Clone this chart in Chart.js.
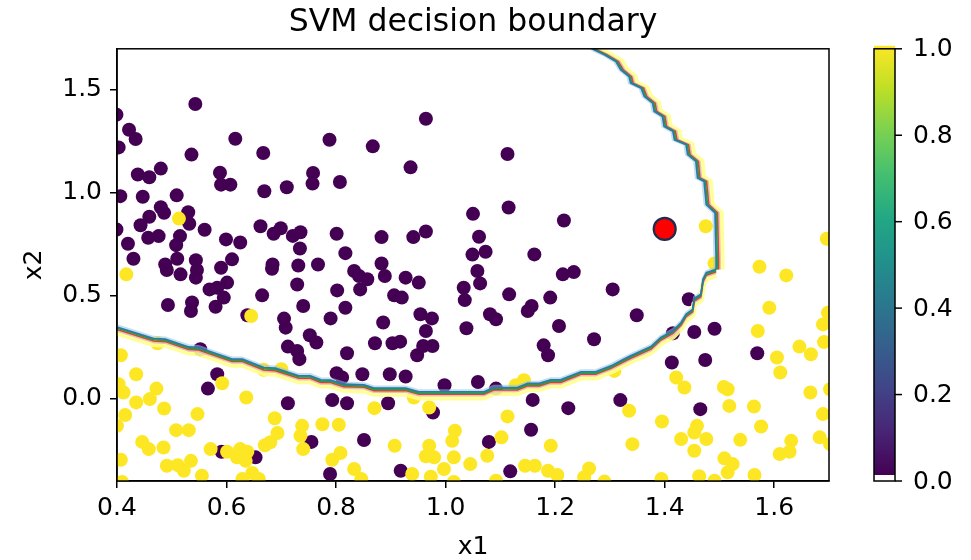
<!DOCTYPE html>
<html>
<head>
<meta charset="utf-8">
<script src="https://cdn.jsdelivr.net/npm/chart.js@4.4.1/dist/chart.umd.min.js"></script>
<style>
  html, body { margin: 0; padding: 0; background: #fff; }
  #wrap { width: 971px; height: 560px; }
</style>
</head>
<body>
<div id="wrap"><canvas id="svm" width="971" height="560"></canvas></div>
<script>
// class 0 samples (purple)
const class0X = [0.543, 0.399, 0.422, 0.434, 0.403, 0.616, 0.536, 0.667, 0.788, 0.480, 0.438, 0.459, 0.588, 0.590, 0.607,
  0.758, 0.757, 0.807, 0.710, 0.669, 0.406, 0.447, 0.509, 0.480, 0.486, 0.530, 0.459, 0.443, 0.532, 0.560, 0.399,
  0.662, 0.699, 0.686, 0.721, 0.735, 0.801, 0.457, 0.476, 0.515, 0.508, 0.420, 0.599, 0.625, 0.734, 0.817, 0.430,
  0.510, 0.544, 0.610, 0.488, 0.491, 0.516, 0.546, 0.544, 0.590, 0.569, 0.583, 0.601, 0.595, 0.580, 0.537, 0.535,
  0.493, 0.665, 0.638, 0.684, 0.683, 0.731, 0.767, 0.729, 0.740, 0.705, 0.708, 0.712, 0.729, 0.733, 0.752, 0.764,
  0.790, 0.802, 0.817, 0.833, 0.842, 0.857, 0.844, 0.883, 0.889, 0.927, 0.951, 0.906, 0.920, 0.886, 0.954, 0.975,
  0.964, 0.871, 0.903, 0.917, 0.948, 0.959, 0.976, 1.033, 1.035, 1.038, 1.049, 1.058, 1.063, 0.552, 0.583, 0.566,
  0.712, 0.793, 0.820, 0.801, 0.811, 0.848, 0.898, 0.927, 0.998, 1.059, 0.895, 0.977, 0.755, 0.851, 0.591, 0.653,
  0.789, 0.918, 1.116, 1.081, 1.092, 1.150, 1.157, 1.191, 1.207, 1.214, 1.234, 1.179, 1.187, 1.271, 1.092, 1.159,
  1.224, 1.156, 1.079, 1.118, 1.113, 0.964, 0.867, 0.936, 1.050, 1.115, 1.216, 0.883, 0.941, 0.964, 1.061, 1.073,
  1.162, 1.305, 1.349, 1.444, 1.415, 1.454, 1.491, 1.413, 1.474, 1.569, 1.319, 1.465, 0.820];
const class0Y = [1.432, 1.380, 1.307, 1.262, 1.221, 1.263, 1.186, 1.194, 1.258, 1.118, 1.089, 1.076, 1.098, 1.040, 1.040,
  1.097, 1.045, 1.053, 1.027, 1.008, 0.984, 0.981, 0.988, 0.930, 0.903, 0.906, 0.884, 0.843, 0.850, 0.821, 0.822,
  0.838, 0.828, 0.801, 0.791, 0.809, 0.801, 0.782, 0.790, 0.790, 0.746, 0.753, 0.774, 0.759, 0.730, 0.707, 0.680,
  0.680, 0.673, 0.677, 0.652, 0.625, 0.604, 0.625, 0.588, 0.636, 0.531, 0.539, 0.564, 0.491, 0.447, 0.467, 0.426,
  0.455, 0.502, 0.405, 0.652, 0.631, 0.647, 0.652, 0.555, 0.450, 0.389, 0.345, 0.253, 0.232, 0.192, 0.308, 0.273,
  0.390, 0.526, 0.442, 0.620, 0.596, 0.580, 0.531, 0.657, 0.596, 0.588, 0.564, 0.502, 0.491, 0.370, 0.410, 0.390,
  0.329, 0.269, 0.269, 0.277, 0.211, 0.256, 0.256, 0.539, 0.479, 0.342, 0.700, 0.620, 0.560, 0.240, 0.119, 0.049,
  -0.022, -0.007, -0.022, 0.124, 0.103, 0.119, 0.119, 0.108, 0.065, 0.081, -0.022, -0.067, -0.210, -0.201, -0.258, -0.285,
  -0.366, -0.350, 0.507, 0.410, 0.386, 0.426, 0.450, 0.491, 0.353, 0.604, 0.615, 0.259, 0.211, 0.289, 0.049, -0.006,
  -0.046, -0.151, -0.210, -0.353, 1.189, 1.360, 1.226, 1.124, 0.898, 0.929, 0.866, 0.785, 0.785, 0.812, 0.787, 0.714,
  0.701, 0.531, 0.405, 0.483, 0.318, 0.324, 0.340, 0.176, 0.188, 0.221, -0.007, -0.051, 0.221];

// class 1 samples (yellow)
const class1X = [0.513, 0.417, 0.474, 0.407, 0.435, 0.403, 0.412, 0.472, 0.460, 0.435, 0.486, 0.415, 0.400, 0.547, 0.508,
  0.531, 0.446, 0.458, 0.485, 0.407, 0.491, 0.511, 0.522, 0.535, 0.555, 0.409, 0.571, 0.601, 0.625, 0.619, 0.638,
  0.635, 0.670, 0.680, 0.688, 0.693, 0.636, 0.592, 0.668, 0.700, 0.738, 0.735, 0.740, 0.775, 0.805, 0.793, 0.808,
  0.833, 0.846, 0.870, 0.907, 0.942, 0.970, 0.970, 0.964, 0.979, 1.017, 1.012, 1.015, 0.997, 1.045, 0.939, 0.973,
  0.629, 0.659, 0.647, 1.015, 1.143, 1.128, 1.113, 1.102, 1.076, 1.192, 1.145, 1.163, 1.187, 1.204, 1.262, 1.253,
  1.092, 1.573, 1.622, 1.591, 1.698, 1.689, 1.691, 1.570, 1.646, 1.667, 1.605, 1.611, 1.308, 1.421, 1.436, 1.508,
  1.515, 1.518, 1.563, 1.576, 1.666, 1.689, 1.702, 1.335, 1.395, 1.341, 1.430, 1.454, 1.459, 1.476, 1.454, 1.538,
  1.509, 1.524, 1.515, 1.631, 1.610, 1.628, 1.683, 1.564, 1.463, 1.491, 1.394, 1.290, 1.702, 1.475, 1.696, 1.491,
  0.645];
const class1Y = [0.875, 0.604, 0.269, 0.211, 0.119, 0.070, 0.030, 0.049, -0.002, -0.018, -0.048, -0.079, -0.132, -0.075, -0.153,
  -0.153, -0.210, -0.245, -0.237, -0.297, -0.326, -0.323, -0.350, -0.302, -0.374, -0.405, -0.245, -0.258, -0.245, -0.285, -0.258,
  -0.302, -0.226, -0.212, -0.095, -0.167, 0.006, 0.075, 0.140, 0.143, -0.132, -0.180, -0.245, -0.124, -0.127, -0.297, -0.264,
  -0.342, -0.390, -0.046, -0.229, 0.006, -0.043, -0.229, -0.280, -0.285, -0.156, -0.205, -0.285, -0.342, -0.318, -0.366, -0.379,
  -0.390, -0.390, -0.361, -0.405, 0.090, 0.065, -0.086, -0.188, -0.277, -0.229, -0.326, -0.326, -0.350, -0.371, -0.339, -0.382,
  -0.399, 0.641, 0.599, 0.442, 0.418, 0.361, 0.275, 0.329, 0.253, 0.216, 0.200, 0.127, 0.135, 0.103, 0.054, 0.057,
  0.046, -0.035, -0.038, -0.135, 0.030, -0.075, 0.046, -0.059, -0.111, -0.221, -0.196, -0.164, -0.132, -0.196, -0.253, -0.200,
  -0.290, -0.318, -0.358, -0.205, -0.269, -0.258, -0.188, -0.371, -0.377, -0.399, -0.390, -0.403, -0.221, 0.838, 0.777, 0.657,
  0.402];

// query point
const queryX = [1.40];
const queryY = [0.825];

// decision boundary (lower arc, then right/upper arc)
const lowerEdgeX = [0.39, 0.400, 0.467, 0.488, 0.531, 0.549, 0.610, 0.629, 0.668, 0.689, 0.732, 0.753, 0.772, 0.790,
  0.814, 0.851, 0.869, 0.927, 0.951, 1.070, 1.088, 1.131, 1.150, 1.171, 1.192, 1.210, 1.247, 1.274, 1.302, 1.326,
  1.338, 1.375, 1.393, 1.415, 1.430, 1.439, 1.451, 1.454, 1.466, 1.470, 1.476, 1.494];
const lowerEdgeY = [0.352, 0.348, 0.292, 0.289, 0.251, 0.248, 0.192, 0.192, 0.151, 0.148, 0.111, 0.111, 0.091, 0.090,
  0.070, 0.067, 0.051, 0.051, 0.033, 0.033, 0.054, 0.054, 0.074, 0.074, 0.091, 0.091, 0.130, 0.130, 0.159, 0.192,
  0.208, 0.253, 0.297, 0.329, 0.370, 0.410, 0.434, 0.486, 0.507, 0.580, 0.612, 0.628];
const upperEdgeX = [1.494, 1.494, 1.492, 1.476, 1.472, 1.460, 1.457, 1.442, 1.439, 1.418, 1.415, 1.399, 1.396, 1.381,
  1.378, 1.363, 1.357, 1.338, 1.335, 1.320, 1.311, 1.290, 1.271, 1.262];
const upperEdgeY = [0.628, 0.677, 0.903, 0.943, 1.056, 1.073, 1.153, 1.186, 1.234, 1.258, 1.299, 1.323, 1.371, 1.396,
  1.436, 1.468, 1.509, 1.533, 1.565, 1.598, 1.638, 1.671, 1.695, 1.715];

const xTicks = [0.4, 0.6, 0.8, 1.0, 1.2, 1.4, 1.6];
const yTicks = [0.0, 0.5, 1.0, 1.5];
const cbTicks = [0.0, 0.2, 0.4, 0.6, 0.8, 1.0];

const FONT = "'DejaVu Sans', 'Liberation Sans', sans-serif";
Chart.defaults.font.family = FONT;
Chart.defaults.color = '#000';

const viridis = ['#440154', '#482475', '#414487', '#355f8d', '#2a788e', '#21918c',
  '#22a884', '#44bf70', '#7ad151', '#bddf26', '#fde725'];

const toPts = (xs, ys) => xs.map((x, i) => ({ x, y: ys[i] }));

// the contour is drawn as a stack of thin coloured lines, each nudged a bit
// towards the yellow side (down for the lower arc, right for the upper one)
const contourStyles = [
  { color: 'rgba(150,195,225,0.55)', width: 2.5, shift: -1.5 },
  { color: 'rgba(255,255,140,0.9)', width: 6, shift: 5.5 },
  { color: 'rgba(226,176,204,0.85)', width: 2.2, shift: 3.6 },
  { color: '#d8452c', width: 1.6, shift: 2.4 },
  { color: '#2ca02c', width: 1.6, shift: 1.2 },
  { color: '#2a7aab', width: 1.8, shift: 0 },
];

const contourSets = [];
contourStyles.forEach((s, i) => {
  const base = {
    type: 'scatter', showLine: true, pointRadius: 0, fill: false,
    borderColor: s.color, borderWidth: s.width, order: 20 - i, clip: 0,
  };
  contourSets.push({ ...base, data: toPts(lowerEdgeX, lowerEdgeY), shift: [0, s.shift] });
  contourSets.push({ ...base, data: toPts(upperEdgeX, upperEdgeY), shift: [s.shift, 0] });
});

const shiftPlugin = {
  id: 'shiftLines',
  beforeDatasetDraw(chart, args) {
    const ds = chart.data.datasets[args.index];
    if (!ds.shift) return;
    chart.ctx.save();
    chart.ctx.translate(ds.shift[0], ds.shift[1]);
  },
  afterDatasetDraw(chart, args) {
    const ds = chart.data.datasets[args.index];
    if (ds.shift) chart.ctx.restore();
  },
};

// axes frame + colorbar on the right
const framePlugin = {
  id: 'frameAndColorbar',
  afterDraw(chart) {
    const { ctx, chartArea } = chart;
    ctx.save();
    ctx.strokeStyle = '#000';
    ctx.lineWidth = 1.5;
    ctx.strokeRect(chartArea.left, chartArea.top, chartArea.right - chartArea.left, chartArea.bottom - chartArea.top);

    const left = chartArea.right + 45;
    const w = 21;
    const top = chartArea.top;
    const bottom = chartArea.bottom;
    const lo = cbTicks[0], hi = cbTicks[cbTicks.length - 1];
    const toY = v => bottom - (v - lo) / (hi - lo) * (bottom - top);

    const g = ctx.createLinearGradient(0, bottom - 6, 0, top - 3);
    viridis.forEach((c, i) => g.addColorStop(i / (viridis.length - 1), c));
    ctx.fillStyle = g;
    ctx.fillRect(left, top - 3, w, bottom - 6 - (top - 3));
    ctx.strokeRect(left, top, w, bottom - top);

    ctx.font = '25px ' + FONT;
    ctx.fillStyle = '#000';
    ctx.textAlign = 'left';
    ctx.textBaseline = 'middle';
    cbTicks.forEach(v => {
      const y = toY(v);
      ctx.beginPath();
      ctx.moveTo(left + w, y);
      ctx.lineTo(left + w + 7, y);
      ctx.stroke();
      ctx.fillText(v.toFixed(1), left + w + 18, y + 1);
    });
    ctx.restore();
  },
};

const tickFont = { family: FONT, size: 25 };

new Chart(document.getElementById('svm'), {
  type: 'scatter',
  data: {
    datasets: [
      {
        label: 'query', data: toPts(queryX, queryY), order: 0, clip: 0,
        pointRadius: 11, backgroundColor: '#ff0000', borderColor: '#1d2c4f', borderWidth: 2.2,
      },
      ...contourSets,
      {
        label: 'class 1', data: toPts(class1X, class1Y), order: 30, clip: 0,
        pointRadius: 7, backgroundColor: viridis[10], borderWidth: 0,
      },
      {
        label: 'class 0', data: toPts(class0X, class0Y), order: 31, clip: 0,
        pointRadius: 7, backgroundColor: viridis[0], borderWidth: 0,
      },
    ],
  },
  options: {
    responsive: false,
    animation: false,
    events: [],
    layout: { padding: { left: 0, right: 142, top: 0, bottom: 0 } },
    scales: {
      x: {
        type: 'linear', min: 0.4, max: 1.7,
        afterBuildTicks: s => { s.ticks = xTicks.map(v => ({ value: v })); },
        afterFit: s => { s.height = 79; },
        ticks: { font: tickFont, color: '#000', padding: 5, maxRotation: 0, autoSkip: false, callback: v => v.toFixed(1) },
        grid: { drawOnChartArea: false, tickLength: 7, color: '#000', lineWidth: 1.5 },
        border: { color: '#000', width: 1.5 },
        title: { display: true, text: 'x1', color: '#000', font: { family: FONT, size: 25, lineHeight: 1 }, padding: { top: 0, bottom: 0 } },
      },
      y: {
        type: 'linear', min: -0.4, max: 1.7,
        afterBuildTicks: s => { s.ticks = yTicks.map(v => ({ value: v })); },
        afterFit: s => { s.width = 117; },
        ticks: { font: tickFont, color: '#000', padding: 8, autoSkip: false, callback: v => v.toFixed(1) },
        grid: { drawOnChartArea: false, tickLength: 7, color: '#000', lineWidth: 1.5 },
        border: { color: '#000', width: 1.5 },
        title: { display: true, text: 'x2', color: '#000', font: { family: FONT, size: 25, lineHeight: 1 }, padding: { top: 22, bottom: 0 } },
      },
    },
    plugins: {
      legend: { display: false },
      tooltip: { enabled: false },
      title: {
        display: true, text: 'SVM decision boundary', fullSize: false, color: '#000',
        font: { family: FONT, size: 31.5, weight: 'normal', lineHeight: 1.2 },
        padding: { top: 4, bottom: 7 },
      },
    },
  },
  plugins: [shiftPlugin, framePlugin],
});
</script>
</body>
</html>
